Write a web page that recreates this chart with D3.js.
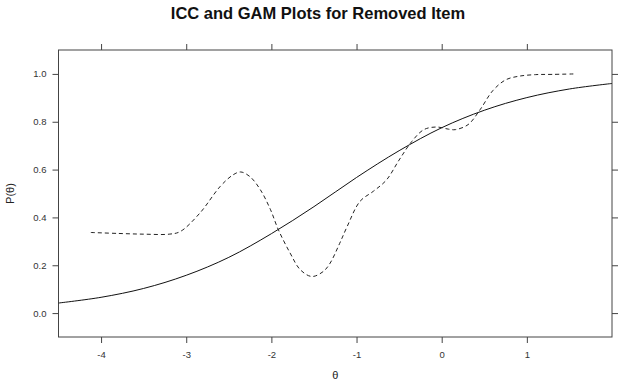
<!DOCTYPE html>
<html>
<head>
<meta charset="utf-8">
<script src="https://cdn.jsdelivr.net/npm/d3@7"></script>
<style>
  body { margin: 0; background: #fff; }
  svg { font-family: "Liberation Sans", Arial, sans-serif; }
</style>
</head>
<body>
<div id="chart"></div>
<script>
// ICC (solid)
const iccTheta = [-4.5, -4, -3.5, -3, -2.5, -2, -1.5, -1, -0.5, 0, 0.5, 1, 1.5, 2];
const iccP = [0.042, 0.066, 0.103, 0.158, 0.233, 0.332, 0.445, 0.567, 0.679, 0.775, 0.848, 0.901, 0.937, 0.960];

// GAM (dashed)
const gamTheta = [-4.12, -3.8, -3.5, -3.2, -3.07, -2.84, -2.6, -2.45, -2.36, -2.25, -2.13, -2.01, -1.92, -1.78, -1.66, -1.525, -1.39, -1.31, -1.2, -1.11, -0.96, -0.8, -0.65, -0.5, -0.35, -0.21, -0.06, 0.08, 0.16, 0.31, 0.45, 0.6, 0.75, 0.9, 1.1, 1.3, 1.57];
const gamP = [0.337, 0.333, 0.330, 0.330, 0.341, 0.418, 0.530, 0.578, 0.590, 0.570, 0.516, 0.432, 0.350, 0.251, 0.181, 0.153, 0.174, 0.209, 0.290, 0.362, 0.467, 0.510, 0.556, 0.640, 0.718, 0.767, 0.778, 0.769, 0.767, 0.788, 0.850, 0.930, 0.975, 0.990, 0.997, 0.998, 1.0];

const xTicks = [-4, -3, -2, -1, 0, 1];
const yTicks = [0, 0.2, 0.4, 0.6, 0.8, 1.0];

const width = 621;
const height = 383;
const margin = { top: 50, right: 9, bottom: 46, left: 58.5 };

const svg = d3.select("#chart")
  .append("svg")
  .attr("width", width)
  .attr("height", height);

const scaleX = d3.scaleLinear()
  .domain([-4.5, 2])
  .range([margin.left, width - margin.right]);

const scaleY = d3.scaleLinear()
  .domain([-0.1, 1.1])
  .range([height - margin.bottom, margin.top]);

const axisColor = "#444";

// axes on all four sides, labels only bottom and left
const styleAxis = (g) => {
  g.select(".domain").remove();
  g.selectAll("line").attr("stroke", axisColor);
  g.selectAll("text").attr("fill", "#333").attr("font-size", "9.5px");
};

svg.append("g")
  .attr("transform", `translate(0, ${height - margin.bottom})`)
  .call(d3.axisBottom(scaleX).tickValues(xTicks).tickSize(6).tickPadding(8).tickFormat((d) => String(d)))
  .call(styleAxis);

svg.append("g")
  .attr("transform", `translate(0, ${margin.top})`)
  .call(d3.axisTop(scaleX).tickValues(xTicks).tickSize(6).tickFormat(""))
  .call(styleAxis);

svg.append("g")
  .attr("transform", `translate(${margin.left}, 0)`)
  .call(d3.axisLeft(scaleY).tickValues(yTicks).tickSize(6).tickPadding(6).tickFormat((d) => d.toFixed(1)))
  .call(styleAxis);

svg.append("g")
  .attr("transform", `translate(${width - margin.right}, 0)`)
  .call(d3.axisRight(scaleY).tickValues(yTicks).tickSize(6).tickFormat(""))
  .call(styleAxis);

// panel box
svg.append("rect")
  .attr("x", scaleX(-4.5))
  .attr("y", scaleY(1.1))
  .attr("width", scaleX(2) - scaleX(-4.5))
  .attr("height", scaleY(-0.1) - scaleY(1.1))
  .attr("fill", "none")
  .attr("stroke", axisColor)
  .attr("stroke-width", 1);

const line = d3.line()
  .x((d) => scaleX(d[0]))
  .y((d) => scaleY(d[1]))
  .curve(d3.curveCatmullRom);

svg.append("clipPath").attr("id", "panel")
  .append("rect")
  .attr("x", scaleX(-4.5))
  .attr("y", scaleY(1.1))
  .attr("width", scaleX(2) - scaleX(-4.5))
  .attr("height", scaleY(-0.1) - scaleY(1.1));

const plot = svg.append("g").attr("clip-path", "url(#panel)");

plot.append("path")
  .datum(d3.zip(iccTheta, iccP))
  .attr("d", line)
  .attr("fill", "none")
  .attr("stroke", "#111")
  .attr("stroke-width", 1);

plot.append("path")
  .datum(d3.zip(gamTheta, gamP))
  .attr("d", line)
  .attr("fill", "none")
  .attr("stroke", "#222")
  .attr("stroke-width", 1)
  .attr("stroke-dasharray", "4,3");

// titres
svg.append("text")
  .attr("x", 318)
  .attr("y", 19)
  .attr("text-anchor", "middle")
  .attr("font-size", "16.5px")
  .attr("font-weight", "bold")
  .attr("fill", "#111")
  .text("ICC and GAM Plots for Removed Item");

svg.append("text")
  .attr("transform", `translate(14, ${(margin.top + height - margin.bottom) / 2}) rotate(-90)`)
  .attr("text-anchor", "middle")
  .attr("font-size", "11px")
  .attr("fill", "#222")
  .text("P(θ)");

svg.append("text")
  .attr("x", (scaleX(-4.5) + scaleX(2)) / 2)
  .attr("y", 379)
  .attr("text-anchor", "middle")
  .attr("font-size", "11px")
  .attr("fill", "#222")
  .text("θ");
</script>
</body>
</html>
